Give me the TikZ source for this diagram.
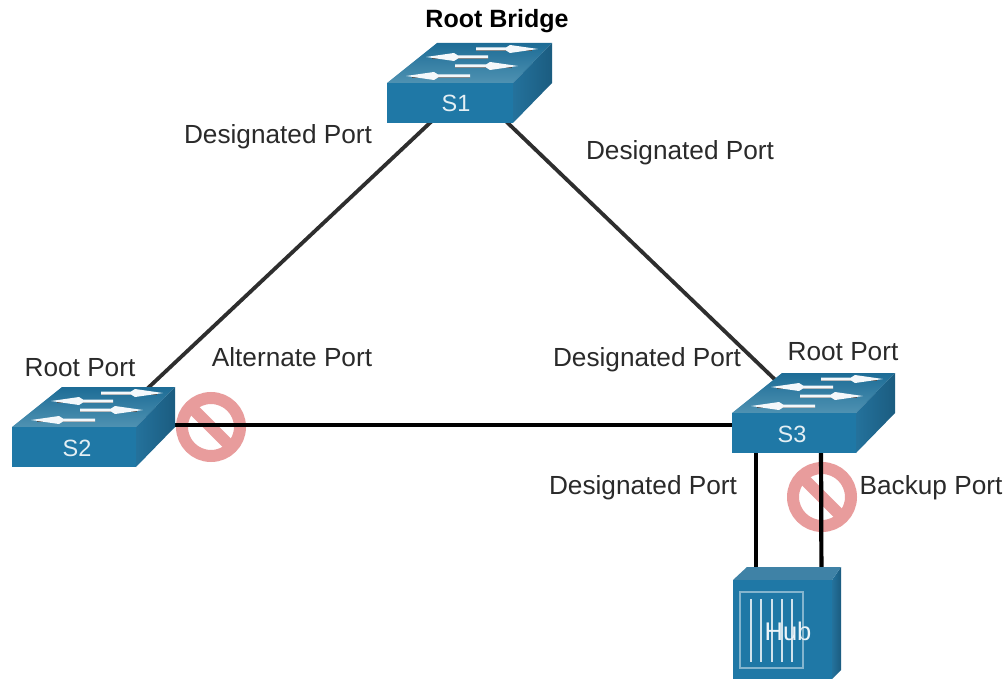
\documentclass[tikz,border=0pt]{standalone}
\usepackage{fontspec}
\setmainfont{Liberation Sans}
\usetikzlibrary{backgrounds}
\definecolor{ciscofront}{HTML}{1F78A6}
\definecolor{ciscotopa}{HTML}{1D6C96}
\definecolor{ciscotopb}{HTML}{4F92B2}
\definecolor{ciscosidea}{HTML}{24729C}
\definecolor{ciscosideb}{HTML}{1B5C80}
\definecolor{nopink}{HTML}{E89C9C}
\definecolor{linkdark}{HTML}{2E2E2E}
\definecolor{labeldark}{HTML}{2A2A2A}
\tikzset{
  x=1pt,y=-1pt,
  lbl/.style={inner sep=0pt,anchor=center,text=labeldark,font=\fontsize{26.2}{30}\selectfont},
  lblb/.style={lbl,text=black,font=\fontsize{25}{30}\selectfont\bfseries},
  link/.style={draw=linkdark,line width=3.8pt},
  linkblack/.style={draw=black,line width=4.2pt},
  face/.style={fill=ciscofront,draw=none,inner sep=0pt},
  devlabel/.style={inner sep=0pt,anchor=center,text=white!88!ciscofront,font=\fontsize{23.5}{28}\selectfont},
  ring/.style={draw=nopink,line width=12pt},
  bar/.style={draw=nopink,line width=12pt,line cap=butt},
  hubline/.style={draw=white!80!ciscofront,line width=1.6pt},
}
\newcommand{\arrowR}[3]{%
  \draw[black!70,line width=1pt] (#1,#3+1.8) -- (#2-6,#3+1.8);
  \fill[white!95!ciscofront] (#1,#3-1.5) -- (#2-32,#3-1.5) -- (#2-28,#3-4) -- (#2,#3) -- (#2-28,#3+4) -- (#2-32,#3+1.5) -- (#1,#3+1.5) -- cycle;}
\newcommand{\arrowL}[3]{%
  \draw[black!70,line width=1pt] (#1+6,#3+1.8) -- (#2,#3+1.8);
  \fill[white!95!ciscofront] (#2,#3-1.5) -- (#1+32,#3-1.5) -- (#1+28,#3-4) -- (#1,#3) -- (#1+28,#3+4) -- (#1+32,#3+1.5) -- (#2,#3+1.5) -- cycle;}
% name, x, y (front top-left), width
\newcommand{\netswitch}[4]{%
  \begin{scope}[shift={(#2,#3)}]
    \shade[top color=ciscotopa,bottom color=ciscotopb] (0,0) -- (50,-40) -- (#4+39,-40) -- (#4,0) -- cycle;
    \shade[left color=ciscosidea,right color=ciscosideb] (#4,0) -- (#4+39,-40) -- (#4+39,0) -- (#4,40) -- cycle;
    \node[face,anchor=north west,minimum width=#4 pt,minimum height=40pt] (#1) at (0,0) {};
    \arrowR{89}{151}{-34}
    \arrowL{39}{101}{-26}
    \arrowR{68}{131}{-17}
    \arrowL{19}{83}{-7}
  \end{scope}}
\begin{document}
\begin{tikzpicture}
\useasboundingbox (0,0) rectangle (1006,679);

\netswitch{s1}{387}{83}{126}
\netswitch{s2}{12}{427}{124}
\netswitch{s3}{732}{413}{124}
\node[devlabel] (s1label) at (456,103) {S1};
\node[devlabel] (s2label) at (77,448) {S2};
\node[devlabel] (s3label) at (792,434) {S3};

% hub
\shade[left color=ciscosidea,right color=ciscosideb] (832,580) -- (841,567) -- (841,670) -- (832,679) -- cycle;
\fill[ciscotopa!85!white] (733,580) -- (747,567) -- (841,567) -- (832,580) -- cycle;
\node[fill=ciscofront,inner sep=0pt,anchor=north west,minimum width=99pt,minimum height=99pt] (hub) at (733,580) {};
\draw[draw=white!45!ciscofront,line width=1.6pt] (740,592) rectangle (803,668);
\foreach \hx in {751,761,772,782,792} \draw[hubline] (\hx,599) -- (\hx,662);
\node[inner sep=0pt,text=white!92!ciscofront,font=\fontsize{25.5}{28}\selectfont] (hubtext) at (788,631) {Hub};

% attachment points inside the devices
\coordinate (s1l) at (450,104);
\coordinate (s1r) at (488,104);
\coordinate (s2t) at (114,420);
\coordinate (s2r) at (150,425);
\coordinate (s3t) at (790,394);
\coordinate (s3l) at (760,425);
\coordinate (s3a) at (756,440);
\coordinate (s3b) at (821,440);
\coordinate (huba) at (756,590);
\coordinate (hubb) at (821.5,590);
\coordinate (noa) at (211,427);
\coordinate (nob) at (822,497);

\begin{scope}[on background layer]
  \fill[white] (0,0) rectangle (1006,679);
  \draw[ring] (noa) circle (29);
  \draw[ring] (nob) circle (29);
  \draw[bar] ([shift={(-21,-21)}]noa) -- ([shift={(21,21)}]noa);
  \draw[bar] ([shift={(-21,-21)}]nob) -- ([shift={(21,21)}]nob);
  \draw[link] (s1l) -- (s2t);
  \draw[link] (s1r) -- (s3t);
  \draw[linkblack] (s2r) -- (s3l);
  \draw[linkblack] (s3a) -- (huba);
  \draw[linkblack] (s3b) -- (hubb);
\end{scope}

\node[lblb] (rb) at (497,21) {Root Bridge};
\node[lbl] (d1) at (278,137) {Designated Port};
\node[lbl] (d2) at (680,153) {Designated Port};
\node[lbl] (d3) at (647,360) {Designated Port};
\node[lbl] (d4) at (643,488) {Designated Port};
\node[lbl] (r2) at (80,368) {Root Port};
\node[lbl] (r3) at (843,352) {Root Port};
\node[lbl] (al) at (292,357) {Alternate Port};
\node[lbl] (bk) at (931,488) {Backup Port};
\end{tikzpicture}
\end{document}
